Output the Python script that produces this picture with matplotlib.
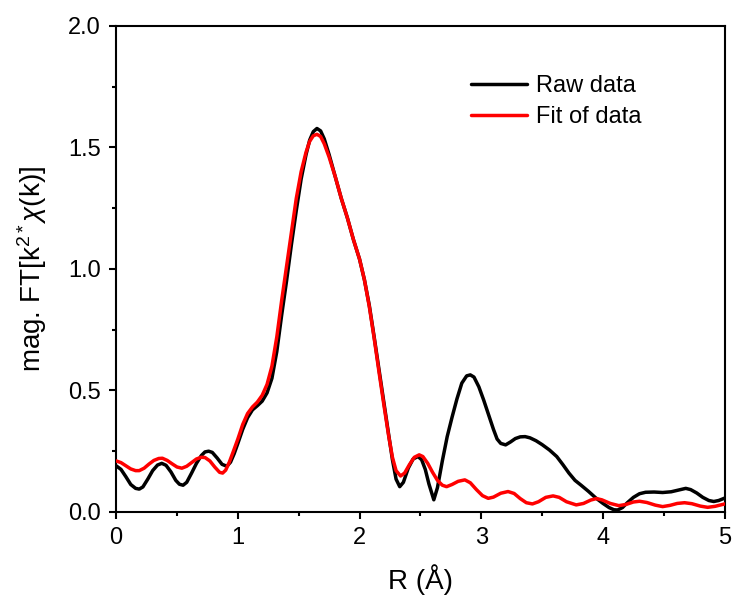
import numpy as np
import matplotlib
matplotlib.use('Agg')
import matplotlib.pyplot as plt
from matplotlib.ticker import MultipleLocator, FormatStrFormatter

plt.rcParams['font.family'] = ['Liberation Sans', 'DejaVu Sans']
plt.rcParams['mathtext.fontset'] = 'custom'
plt.rcParams['mathtext.rm'] = 'Liberation Sans'
plt.rcParams['mathtext.it'] = 'Liberation Sans:italic'

# Raw data (black)
raw_r = [0.00, 0.04, 0.08, 0.12, 0.16, 0.19, 0.22, 0.26, 0.30, 0.34,
         0.375, 0.41, 0.45, 0.49, 0.52, 0.55, 0.58, 0.62, 0.66, 0.70,
         0.73, 0.76, 0.79, 0.83, 0.87, 0.91, 0.94, 0.97, 1.00, 1.04,
         1.08, 1.12, 1.16, 1.20, 1.24, 1.28, 1.32, 1.36, 1.40, 1.44,
         1.48, 1.52, 1.56, 1.59, 1.62, 1.65, 1.68, 1.71, 1.75, 1.80,
         1.85, 1.90, 1.95, 2.00, 2.04, 2.08, 2.12, 2.16, 2.20, 2.24,
         2.27, 2.30, 2.33, 2.36, 2.40, 2.44, 2.48, 2.51, 2.54, 2.57,
         2.61, 2.64, 2.68, 2.72, 2.76, 2.80, 2.84, 2.88, 2.91, 2.94,
         2.98, 3.02, 3.06, 3.10, 3.13, 3.16, 3.20, 3.24, 3.28, 3.32,
         3.36, 3.40, 3.45, 3.50, 3.56, 3.62, 3.67, 3.72, 3.77, 3.82,
         3.88, 3.94, 4.00, 4.05, 4.09, 4.12, 4.16, 4.20, 4.25, 4.30,
         4.35, 4.42, 4.49, 4.56, 4.62, 4.68, 4.72, 4.77, 4.82, 4.87,
         4.91, 4.95, 5.00]
raw_ft = [0.190, 0.175, 0.145, 0.113, 0.097, 0.094, 0.103, 0.135, 0.170, 0.193,
          0.200, 0.192, 0.165, 0.130, 0.114, 0.110, 0.122, 0.160, 0.200, 0.232,
          0.247, 0.250, 0.245, 0.222, 0.196, 0.188, 0.205, 0.240, 0.282, 0.340,
          0.388, 0.420, 0.437, 0.456, 0.490, 0.550, 0.660, 0.810, 0.950, 1.100,
          1.240, 1.370, 1.470, 1.530, 1.565, 1.578, 1.568, 1.535, 1.470, 1.380,
          1.290, 1.210, 1.120, 1.040, 0.955, 0.850, 0.720, 0.585, 0.450, 0.315,
          0.215, 0.135, 0.104, 0.122, 0.180, 0.218, 0.228, 0.215, 0.175, 0.115,
          0.050, 0.100, 0.210, 0.310, 0.390, 0.465, 0.530, 0.560, 0.564, 0.555,
          0.515, 0.460, 0.400, 0.340, 0.300, 0.282, 0.276, 0.288, 0.302, 0.309,
          0.310, 0.305, 0.293, 0.277, 0.255, 0.228, 0.195, 0.160, 0.130, 0.110,
          0.085, 0.058, 0.035, 0.018, 0.009, 0.008, 0.018, 0.038, 0.060, 0.075,
          0.081, 0.082, 0.080, 0.083, 0.090, 0.097, 0.092, 0.078, 0.060, 0.047,
          0.043, 0.047, 0.057]

# Fit of data (red)
fit_r = [0.00, 0.04, 0.08, 0.12, 0.16, 0.19, 0.23, 0.27, 0.31, 0.35,
         0.38, 0.42, 0.46, 0.50, 0.54, 0.58, 0.62, 0.66, 0.70, 0.73,
         0.77, 0.81, 0.85, 0.875, 0.90, 0.93, 0.96, 1.00, 1.04, 1.08,
         1.12, 1.16, 1.20, 1.24, 1.28, 1.32, 1.36, 1.40, 1.44, 1.48,
         1.52, 1.56, 1.59, 1.62, 1.65, 1.68, 1.71, 1.75, 1.80, 1.85,
         1.90, 1.95, 2.00, 2.04, 2.08, 2.12, 2.16, 2.20, 2.24, 2.27,
         2.30, 2.337, 2.37, 2.41, 2.45, 2.49, 2.52, 2.56, 2.60, 2.64,
         2.68, 2.715, 2.76, 2.81, 2.865, 2.91, 2.96, 3.01, 3.057, 3.10,
         3.16, 3.22, 3.27, 3.32, 3.37, 3.42, 3.47, 3.53, 3.59, 3.64,
         3.70, 3.78, 3.84, 3.90, 3.946, 3.99, 4.06, 4.13, 4.19, 4.25,
         4.30, 4.36, 4.43, 4.49, 4.55, 4.61, 4.67, 4.73, 4.80, 4.86,
         4.92, 5.00]
fit_ft = [0.210, 0.203, 0.190, 0.177, 0.170, 0.170, 0.180, 0.197, 0.212, 0.220,
          0.221, 0.212, 0.198, 0.185, 0.180, 0.188, 0.203, 0.218, 0.225, 0.224,
          0.210, 0.185, 0.163, 0.160, 0.172, 0.205, 0.245, 0.300, 0.360, 0.405,
          0.432, 0.452, 0.480, 0.525, 0.600, 0.720, 0.870, 1.010, 1.150, 1.290,
          1.400, 1.480, 1.525, 1.548, 1.554, 1.545, 1.515, 1.460, 1.380, 1.290,
          1.210, 1.120, 1.040, 0.955, 0.845, 0.715, 0.575, 0.440, 0.310, 0.225,
          0.170, 0.148, 0.160, 0.195, 0.225, 0.235, 0.228, 0.200, 0.163, 0.130,
          0.110, 0.104, 0.113, 0.126, 0.132, 0.120, 0.092, 0.067, 0.056, 0.061,
          0.077, 0.084, 0.076, 0.055, 0.038, 0.033, 0.042, 0.060, 0.066, 0.060,
          0.042, 0.029, 0.035, 0.049, 0.055, 0.050, 0.035, 0.026, 0.031, 0.041,
          0.044, 0.039, 0.028, 0.022, 0.027, 0.035, 0.038, 0.034, 0.024, 0.019,
          0.023, 0.033]

fig = plt.figure(figsize=(7.35, 6.03), dpi=100)
ax = fig.add_axes([0.158, 0.151, 0.828, 0.806])

ax.plot(raw_r, raw_ft, color='black', lw=2.5, label='Raw data', zorder=3,
        solid_joinstyle='round', solid_capstyle='round')
ax.plot(fit_r, fit_ft, color='red', lw=2.5, label='Fit of data', zorder=4,
        solid_joinstyle='round', solid_capstyle='round')

ax.set_xlim(0, 5)
ax.set_ylim(0, 2.0)
ax.xaxis.set_major_locator(MultipleLocator(1))
ax.xaxis.set_minor_locator(MultipleLocator(0.5))
ax.yaxis.set_major_locator(MultipleLocator(0.5))
ax.yaxis.set_minor_locator(MultipleLocator(0.25))
ax.yaxis.set_major_formatter(FormatStrFormatter('%.1f'))

for s in ax.spines.values():
    s.set_linewidth(1.5)
ax.tick_params(which='major', direction='out', length=5, width=1.5,
               labelsize=17, pad=6, top=False, right=False)
ax.tick_params(which='minor', direction='out', length=3, width=1.5,
               top=False, right=False)

ax.set_xlabel('R (Å)', fontsize=20, labelpad=11)
ax.set_ylabel(r'mag. FT[k$^{2*}$$\chi$(k)]', fontsize=20, labelpad=14)

ax.legend(loc='upper left', bbox_to_anchor=(0.549, 0.942), frameon=False,
          fontsize=17, handlelength=2.37, handletextpad=0.37, labelspacing=0.38)

fig.savefig('out.png', dpi=100)
